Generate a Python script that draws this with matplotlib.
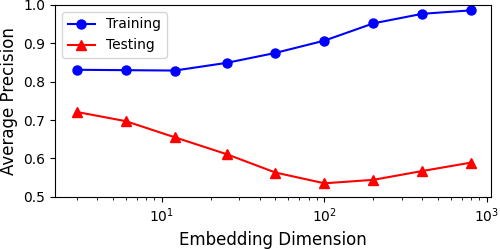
import matplotlib
matplotlib.use("Agg")
import matplotlib.pyplot as plt

dims = [3, 6, 12, 25, 50, 100, 200, 400, 800]
training = [0.831, 0.830, 0.829, 0.849, 0.875, 0.907, 0.952, 0.977, 0.986]
testing = [0.721, 0.697, 0.655, 0.611, 0.563, 0.535, 0.544, 0.567, 0.589]

fig, ax = plt.subplots(figsize=(5.0, 2.49), dpi=100)
fig.subplots_adjust(left=0.11, right=0.982, top=0.98, bottom=0.21)

ax.plot(dims, training, 'o-', color='blue', markersize=6.5, linewidth=1.5, label='Training')
ax.plot(dims, testing, '^-', color='red', markersize=6.5, linewidth=1.5, label='Testing')

ax.set_xscale('log')
ax.set_xlim(2.2, 1060)
ax.set_ylim(0.5, 1.0)
ax.set_xlabel('Embedding Dimension', fontsize=12)
ax.set_ylabel('Average Precision', fontsize=12)
ax.tick_params(labelsize=10)
ax.legend(loc='upper left', fontsize=10)

fig.savefig('out.png')
